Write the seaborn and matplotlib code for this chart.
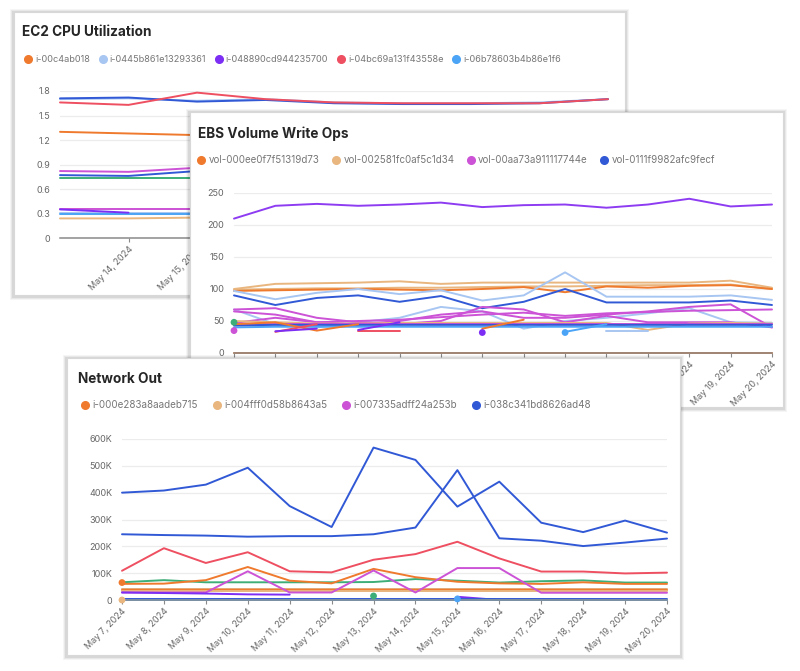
import numpy as np
import matplotlib
matplotlib.use("Agg")
import matplotlib.pyplot as plt
import seaborn as sns
from matplotlib.patches import Rectangle
from matplotlib.lines import Line2D

sns.set_theme(style="white")
plt.rcParams["font.family"] = ["Inter", "DejaVu Sans"]

W, H = 800, 671

# colours
ORANGE = "#EF7A2E"
PEACH = "#E8B67E"
PURPLE = "#7C2EF4"
MAGENTA = "#CC52D6"
BLUE = "#3159D6"
LBLUE = "#A8C6F2"
RED = "#EE4F61"
SKY = "#4BA4F6"
GREEN = "#3DAE78"
TAN = "#E3A877"

# ---------------- EC2 CPU Utilization ----------------
ec2_dates = ["May 14, 2024", "May 15, 2024", "May 16, 2024", "May 17, 2024",
             "May 18, 2024", "May 19, 2024", "May 20, 2024", "May 21, 2024"]
ec2_legend = ["i-00c4ab018", "i-0445b861e13293361", "i-048890cd944235700",
              "i-04bc69a131f43558e", "i-06b78603b4b86e1f6"]
ec2_legend_colors = [ORANGE, LBLUE, PURPLE, RED, SKY]
ec2_series = [
    (LBLUE, [1.70, 1.71, 1.68, 1.70, 1.66, 1.65, 1.65, 1.66, 1.70]),
    (BLUE, [1.71, 1.72, 1.67, 1.69, 1.65, 1.64, 1.64, 1.65, 1.70]),
    (RED, [1.66, 1.63, 1.78, 1.70, 1.66, 1.65, 1.65, 1.65, 1.70]),
    (ORANGE, [1.30, 1.28, 1.26, 1.26, 1.25, 1.25, 1.25, 1.25, 1.25]),
    (MAGENTA, [0.82, 0.81, 0.86, 0.86, 0.85, 0.85, 0.85, 0.85, 0.85]),
    (BLUE, [0.77, 0.76, 0.82, 0.80, 0.80, 0.80, 0.80, 0.80, 0.80]),
    (GREEN, [0.74, 0.74, 0.74, 0.74, 0.74, 0.74, 0.74, 0.74, 0.74]),
    (MAGENTA, [0.35, 0.35, 0.35, 0.35, 0.35, 0.35, 0.35, 0.35, 0.35]),
    (LBLUE, [0.31, 0.31, 0.31, 0.31, 0.31, 0.31, 0.31, 0.31, 0.31]),
    (SKY, [0.29, 0.29, 0.29, 0.29, 0.29, 0.29, 0.29, 0.29, 0.29]),
    (PEACH, [0.24, 0.24, 0.25, 0.25, 0.25, 0.25, 0.25, 0.25, 0.25]),
    (PURPLE, [0.35, 0.31]),
]

# ---------------- EBS Volume Write Ops ----------------
ebs_dates = ["May 7, 2024", "May 8, 2024", "May 9, 2024", "May 10, 2024",
             "May 11, 2024", "May 12, 2024", "May 13, 2024", "May 14, 2024",
             "May 15, 2024", "May 16, 2024", "May 17, 2024", "May 18, 2024",
             "May 19, 2024", "May 20, 2024"]
ebs_legend = ["vol-000ee0f7f51319d73", "vol-002581fc0af5c1d34",
              "vol-00aa73a911117744e", "vol-0111f9982afc9fecf"]
ebs_legend_colors = [ORANGE, PEACH, MAGENTA, BLUE]
ebs_series = [
    ("#8E3CF2", [210, 230, 233, 230, 232, 235, 228, 231, 232, 227, 232, 241, 229, 232], 0),
    (PEACH, [100, 108, 109, 110, 112, 108, 110, 110, 110, 110, 110, 110, 113, 102], 0),
    (PEACH, [99, 100, 101, 101, 102, 102, 103, 104, 104, 105, 106, 106, 107, 100], 0),
    (ORANGE, [97, 98, 99, 100, 99, 98, 100, 103, 95, 104, 102, 105, 106, 100], 0),
    (LBLUE, [97, 84, 94, 100, 92, 98, 82, 90, 126, 88, 88, 88, 90, 83], 0),
    (BLUE, [90, 75, 86, 90, 80, 89, 70, 80, 100, 79, 79, 79, 82, 75], 0),
    (LBLUE, [68, 45, 40, 48, 55, 72, 65, 38, 50, 55, 62, 70, 48, 47], 0),
    (MAGENTA, [68, 70, 55, 48, 45, 50, 72, 68, 48, 58, 48, 48, 48, 40], 0),
    (MAGENTA, [65, 60, 48, 45, 50, 60, 65, 55, 55, 60, 65, 72, 76, 40], 0),
    (MAGENTA, [47, 55, 48, 50, 52, 56, 60, 63, 58, 62, 64, 66, 67, 68], 0),
    (PEACH, [50, 48, 46, 46, 47, 47, 47, 47, 47, 47, 36, 46, 47, 46], 0),
    (MAGENTA, [46, 46, 46, 46, 46, 46, 46, 46, 46, 46, 46, 46, 46, 46], 0),
    (SKY, [40, 41, 41, 41, 41, 41, 41, 41, 41, 41, 41, 41, 41, 41], 0),
    (BLUE, [43, 44, 44, 44, 44, 44, 44, 44, 44, 44, 44, 44, 44, 44], 0),
    (ORANGE, [45, 48, 35, 45], 0),
    (RED, [33, 45], 1),
    (PURPLE, [34, 38], 1),
    (RED, [35, 35], 3),
    (PURPLE, [36, 48], 3),
    (ORANGE, [38, 52], 6),
    (SKY, [33, 45], 8),
    (LBLUE, [34, 34], 9),
    (ORANGE, [0] * 14, 0),
]
ebs_dots = [(GREEN, 0, 48), (MAGENTA, 0, 35), (PURPLE, 6, 32), (SKY, 8, 32)]

# ---------------- Network Out ----------------
net_dates = ebs_dates
net_legend = ["i-000e283a8aadeb715", "i-004fff0d58b8643a5",
              "i-007335adff24a253b", "i-038c341bd8626ad48"]
net_legend_colors = [ORANGE, PEACH, MAGENTA, BLUE]
net_series = [
    (BLUE, [400, 408, 430, 493, 350, 272, 568, 522, 348, 441, 288, 253, 296, 251], 0),
    (BLUE, [245, 242, 240, 236, 238, 238, 245, 270, 484, 230, 221, 201, 214, 229], 0),
    (RED, [109, 193, 138, 178, 107, 103, 150, 171, 217, 155, 106, 106, 99, 102], 0),
    (GREEN, [66, 74, 66, 66, 66, 66, 67, 78, 72, 65, 70, 73, 65, 65], 0),
    (ORANGE, [60, 61, 74, 123, 72, 62, 116, 85, 68, 62, 60, 66, 60, 60], 0),
    (TAN, [42] * 14, 0),
    (ORANGE, [39] * 14, 0),
    (PEACH, [35] * 14, 0),
    (MAGENTA, [28, 28, 28, 107, 28, 28, 110, 28, 119, 119, 27, 27, 27, 27], 0),
    (PURPLE, [28, 26, 24, 21, 20], 0),
    (PURPLE, [12, 0], 8),
    (PURPLE, [1, 1], 10),
    (BLUE, [3] * 14, 0),
    (SKY, [0] * 14, 0),
]
net_dots = [(ORANGE, 0, 65), (PEACH, 0, 0), (GREEN, 6, 15), (SKY, 8, 4)]

fig = plt.figure(figsize=(8, 6.71), dpi=100)
fig.patch.set_facecolor("white")


def card(l, t, r, b, z):
    # soft shadow + white card, pixel coords
    for i, a in enumerate([0.04, 0.05, 0.07]):
        g = 4 - i
        fig.patches.append(Rectangle(((l - g) / W, 1 - (b + g + 1) / H),
                                     (r - l + 2 * g) / W, (b - t + 2 * g) / H,
                                     transform=fig.transFigure, facecolor="black",
                                     edgecolor="none", alpha=a, zorder=z))
    fig.patches.append(Rectangle((l / W, 1 - b / H), (r - l) / W, (b - t) / H,
                                 transform=fig.transFigure, facecolor="white",
                                 edgecolor="#d8d8d8", linewidth=0.8, zorder=z + 0.1))


def make_ax(l, r, t, b, z):
    ax = fig.add_axes([l / W, 1 - b / H, (r - l) / W, (b - t) / H], zorder=z)
    ax.patch.set_visible(False)
    for s in ["top", "right", "left"]:
        ax.spines[s].set_visible(False)
    ax.spines["bottom"].set_color("#8a8a8a")
    ax.spines["bottom"].set_linewidth(1.1)
    ax.yaxis.grid(True, color="#ececec", linewidth=0.9)
    ax.set_axisbelow(True)
    ax.tick_params(axis="y", length=0, labelsize=6.5, labelcolor="#666666", pad=7)
    ax.tick_params(axis="x", bottom=True, length=3, width=0.8, color="#8a8a8a",
                   labelsize=6.5, labelcolor="#666666", pad=2)
    ax.set_xlabel("")
    ax.set_ylabel("")
    return ax


def draw(ax, series, n, dots=()):
    for color, vals, start in series:
        x = np.arange(start, start + len(vals))
        sns.lineplot(x=x, y=vals, ax=ax, color=color, linewidth=1.4,
                     legend=False, clip_on=False)
    for color, i, v in dots:
        sns.scatterplot(x=[i], y=[v], ax=ax, color=color, s=24,
                        edgecolor="none", legend=False, clip_on=False, zorder=5)
    ax.set_xlim(0, n - 1)


def legend(ax, labels, colors, x, y, size, spacing):
    handles = [Line2D([], [], marker="o", linestyle="", color=c, markersize=5.5)
               for c in colors]
    ax.legend(handles, labels, loc="center left", ncol=len(labels),
              bbox_to_anchor=(x / W, 1 - y / H), bbox_transform=fig.transFigure,
              frameon=False, fontsize=size, labelcolor="#777777",
              handletextpad=0.3, columnspacing=spacing, borderaxespad=0,
              borderpad=0, handlelength=0.9)


def title(text, x, y, z):
    fig.text(x / W, 1 - y / H, text, fontsize=9.8, fontweight="bold",
             color="#262626", va="center", ha="left", zorder=z)


# panel 1
card(14, 12, 625, 295, 1)
title("EC2 CPU Utilization", 22, 32, 1.5)
ax1 = make_ax(60, 608, 91, 238, 2)
draw(ax1, [(c, v, 0) for c, v in ec2_series], 9)
ax1.set_ylim(0, 1.8)
ax1.set_yticks([0, 0.3, 0.6, 0.9, 1.2, 1.5, 1.8])
ax1.set_yticklabels(["0", "0.3", "0.6", "0.9", "1.2", "1.5", "1.8"])
ax1.set_xticks(np.arange(1, 9))
ax1.set_xticklabels(ec2_dates, rotation=45, ha="right", rotation_mode="anchor")
legend(ax1, ec2_legend, ec2_legend_colors, 24, 60, 6.6, 0.95)

# panel 2
card(190, 112, 783, 407, 3)
title("EBS Volume Write Ops", 198, 134, 3.5)
ax2 = make_ax(234, 772, 193, 353, 4)
draw(ax2, ebs_series, 14, ebs_dots)
ax2.set_ylim(0, 250)
ax2.set_yticks([0, 50, 100, 150, 200, 250])
ax2.set_xticks(np.arange(14))
ax2.set_xticklabels(ebs_dates, rotation=45, ha="right", rotation_mode="anchor")
legend(ax2, ebs_legend, ebs_legend_colors, 197, 160, 7.0, 1.25)

# panel 3
card(67, 358, 680, 655, 5)
title("Network Out", 78, 379, 5.5)
ax3 = make_ax(122, 667, 439, 600, 6)
draw(ax3, net_series, 14, net_dots)
ax3.set_ylim(0, 600)
ax3.set_yticks([0, 100, 200, 300, 400, 500, 600])
ax3.set_yticklabels(["0", "100K", "200K", "300K", "400K", "500K", "600K"])
ax3.set_xticks(np.arange(14))
ax3.set_xticklabels(net_dates, rotation=45, ha="right", rotation_mode="anchor")
legend(ax3, net_legend, net_legend_colors, 81, 405, 7.1, 1.45)

fig.savefig("out.png", dpi=100)
